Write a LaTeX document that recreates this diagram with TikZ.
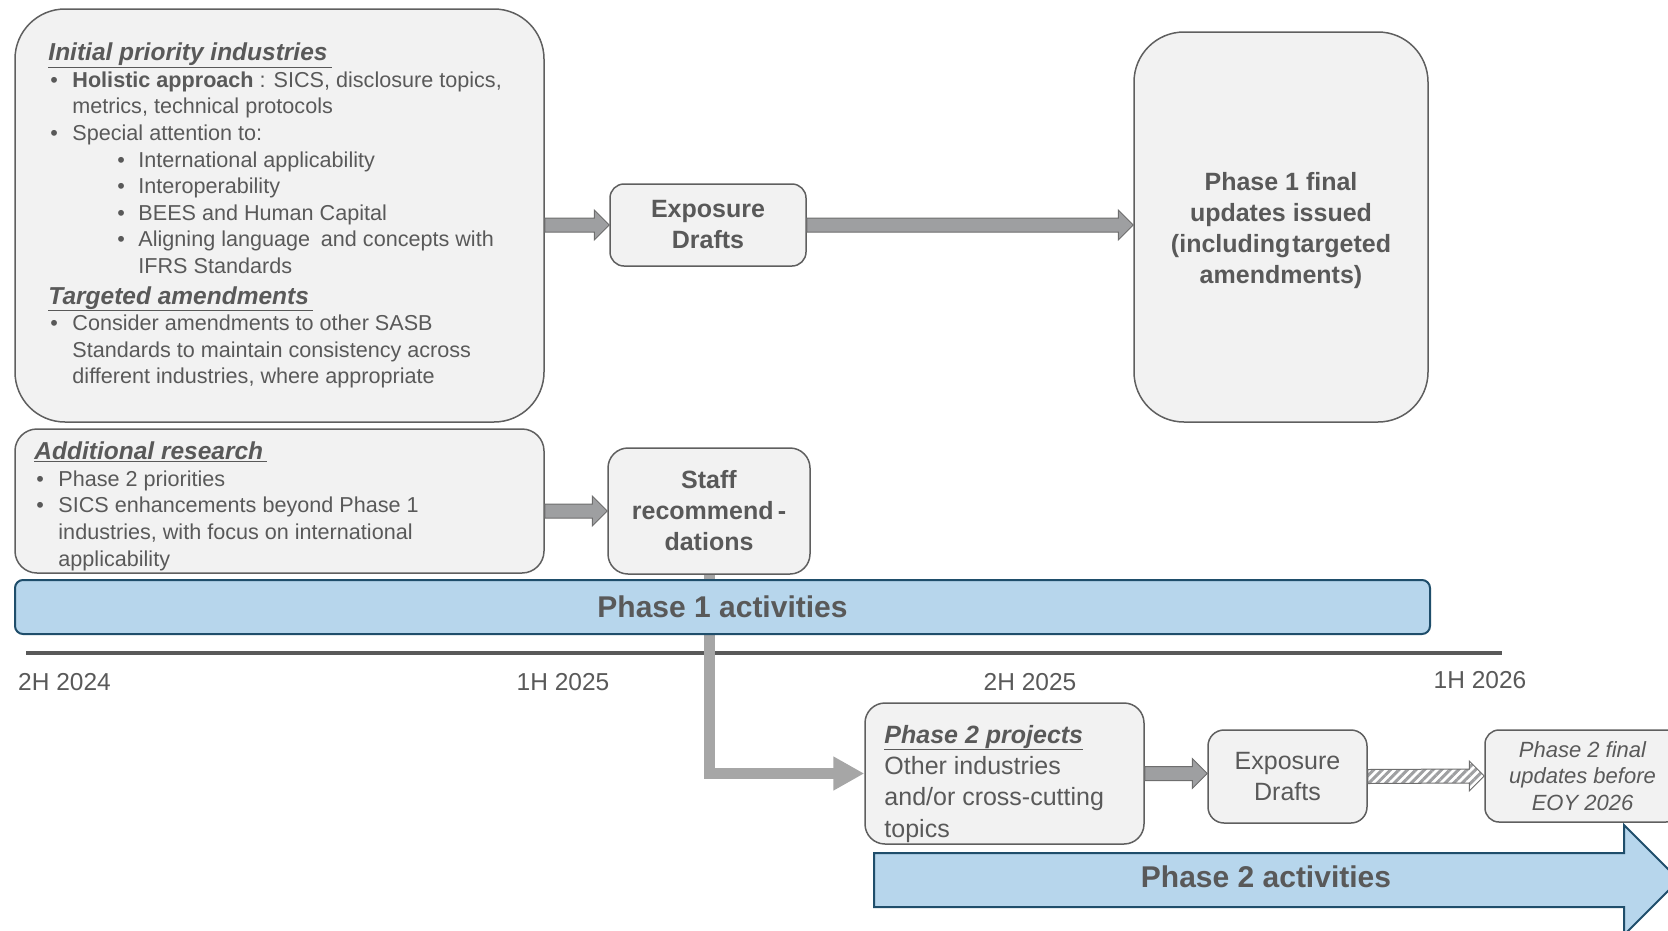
\documentclass[tikz,border=0pt]{standalone}
\usepackage{fontspec}
\setmainfont{Liberation Sans}
\definecolor{txtgray}{RGB}{89,89,89}
\definecolor{boxfill}{RGB}{242,242,242}
\definecolor{boxline}{RGB}{95,95,95}
\definecolor{arrfill}{RGB}{158,159,161}
\definecolor{arrline}{RGB}{110,110,110}
\definecolor{barblue}{RGB}{183,214,236}
\definecolor{barline}{RGB}{31,78,107}
\definecolor{linkgray}{RGB}{166,166,166}
\usetikzlibrary{arrows.meta,positioning,calc,patterns.meta}

\newcommand{\txtbody}{\fontsize{21.6}{26.6}\selectfont}
\newcommand{\txthead}{\fontsize{24.5}{26.6}\selectfont}
\newcommand{\txtbox}{\fontsize{25}{31}\selectfont}
\newcommand{\txtsmall}{\fontsize{22}{26.3}\selectfont}
\newcommand{\txtbar}{\fontsize{30}{36}\selectfont}
\newcommand{\hdg}[1]{{\txthead\underline{\textbf{\textit{#1}}\,}}}
\newcommand{\bul}{\hspace*{2pt}\makebox[22pt][l]{\textbullet}}
\newcommand{\sbul}{\hspace*{69pt}\makebox[21pt][l]{\textbullet}}
\newcommand{\ind}{\hspace*{24pt}}
\newcommand{\sind}{\hspace*{90pt}}

% block arrow from #2 to #3 (same height)
\newcommand{\fatarrow}[3][fatarr]{%
  \draw[#1] ($(#2)+(0,-7)$) -- ($(#3)+(-15,-7)$) -- ($(#3)+(-15,-15)$) -- (#3)
    -- ($(#3)+(-15,15)$) -- ($(#3)+(-15,7)$) -- ($(#2)+(0,7)$) -- cycle;}

\tikzset{
  roundbox/.style={draw=boxline, line width=1.5pt, fill=boxfill, inner sep=0pt, text=txtgray},
  boxtext/.style={text=txtgray, inner sep=0pt, align=left, font=\txtbody},
  fatarr/.style={draw=arrline, line width=1pt, fill=arrfill},
  hatcharr/.style={draw=arrline, line width=1pt,
    pattern={Lines[angle=45,distance=6pt,line width=3pt]}, pattern color=arrfill},
  phasebar/.style={draw=barline, line width=2pt, fill=barblue},
  datelbl/.style={text=txtgray, inner sep=0pt, font=\fontsize{24.5}{28}\selectfont},
}

\begin{document}
\begin{tikzpicture}[x=1pt, y=-1pt]
  \useasboundingbox (0,0) rectangle (1668,930);
  \clip (0,0) rectangle (1668,930);

  % Phase 1 boxes
  \node[roundbox, rounded corners=50pt, minimum width=529pt, minimum height=413pt] (prio) at (279.5,215.5) {};
  \node[boxtext, anchor=north west, below right=34.4pt and 34pt of prio.north west] (priotxt)
    {\hdg{Initial priority industries}\\
     \bul\textbf{Holistic approach} : SICS, disclosure topics,\\
     \ind metrics, technical protocols\\
     \bul Special attention to:\\
     \sbul International applicability\\
     \sbul Interoperability\\
     \sbul BEES and Human Capital\\
     \sbul Aligning language\enspace and concepts with\\
     \sind IFRS Standards\\[4pt]
     \hdg{Targeted amendments}\\
     \bul Consider amendments to other SASB\\
     \ind Standards to maintain consistency across\\
     \ind different industries, where appropriate};
  \node[roundbox, rounded corners=14pt, minimum width=196pt, minimum height=82pt,
        font=\txtbox\bfseries, align=center] (ed1) at (708,225) {Exposure\\Drafts};
  \node[roundbox, rounded corners=50pt, minimum width=294pt, minimum height=390pt] (p1fin) at (1281,227) {};
  \node[text=txtgray, inner sep=0pt, font=\txtbox\bfseries, align=center] (p1fintxt)
    at ($(p1fin.center)+(0,4)$)
    {Phase 1 final\\updates issued\\(including\hspace{2pt}targeted\\amendments)};
  \node[roundbox, rounded corners=22pt, minimum width=529pt, minimum height=144pt] (more) at (279.5,501) {};
  \node[boxtext, anchor=north west, below right=13.4pt and 20pt of more.north west] (moretxt)
    {\hdg{Additional research}\\
     \bul Phase 2 priorities\\
     \bul SICS enhancements beyond Phase 1\\
     \ind industries, with focus on international\\
     \ind applicability};
  \node[roundbox, rounded corners=20pt, minimum width=202pt, minimum height=126pt,
        font=\txtbox\bfseries, align=center] (staff) at (709,511) {Staff\\recommend\,-\\dations};

  % Phase 2 boxes
  \node[roundbox, rounded corners=20pt, minimum width=279pt, minimum height=141pt] (p2proj) at (1004.5,773.5) {};
  \node[boxtext, anchor=north west, font=\fontsize{25}{31.4}\selectfont,
        below right=22.5pt and 20pt of p2proj.north west] (p2projtxt)
    {{\fontsize{25}{31.4}\selectfont\underline{\textbf{\textit{Phase 2 projects}}}}\\
     Other industries\\and/or cross-cutting\\topics};
  \node[roundbox, rounded corners=16pt, minimum width=159pt, minimum height=93pt,
        font=\txtbox, align=center] (ed2) at (1287.5,776.5) {Exposure\\Drafts};
  \node[roundbox, rounded corners=14pt, minimum width=195pt, minimum height=92pt,
        font=\txtsmall\itshape, align=center] (p2fin) at (1582.5,776)
    {Phase 2 final\\updates before\\EOY 2026};

  % timeline
  \coordinate (tl0) at (26,653);
  \coordinate (tl1) at (1502,653);
  \draw[line width=4pt, txtgray] (tl0) -- (tl1);
  \node[datelbl, anchor=west] (d1) at (18,682) {2H 2024};
  \node[datelbl] (d2) at (563,682) {1H 2025};
  \node[datelbl] (d3) at (1030,682) {2H 2025};
  \node[datelbl] (d4) at (1480,680) {1H 2026};

  % staff recommendations feed Phase 2
  \draw[linkgray, line width=11pt, -{Triangle[length=31pt,width=32pt]}] (staff.south) |- (p2proj.west);

  % phase bars
  \node[phasebar, rounded corners=8pt, minimum width=1415pt, minimum height=54pt,
        text=txtgray, font=\txtbar\bfseries] (p1bar) at (722.5,607) {Phase 1 activities};
  \draw[phasebar] (874,853) -- (1624,853) -- (1624,825) -- (1679,880)
    -- (1624,935) -- (1624,907) -- (874,907) -- cycle;
  \node[text=txtgray, font=\txtbar\bfseries] (p2bar) at (1266,877) {Phase 2 activities};

  % block arrows
  \coordinate (a1) at (prio.east |- ed1.west);
  \coordinate (a2) at (p1fin.west |- ed1.east);
  \coordinate (a3) at (more.east |- staff.west);
  \coordinate (a4) at (ed2.west |- p2proj.east);
  \fatarrow{a1}{ed1.west}
  \fatarrow{ed1.east}{a2}
  \fatarrow{a3}{staff.west}
  \fatarrow{p2proj.east}{a4}
  \fatarrow[hatcharr]{ed2.east}{p2fin.west}
\end{tikzpicture}
\end{document}
